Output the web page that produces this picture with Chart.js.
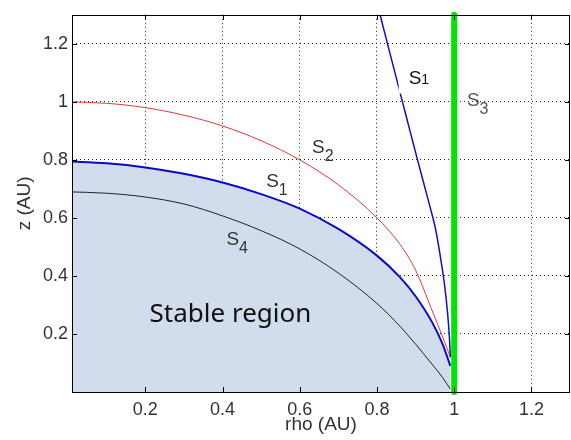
<!DOCTYPE html>
<html>
<head>
<meta charset="utf-8">
<script src="https://cdn.jsdelivr.net/npm/chart.js@4.4.0/dist/chart.umd.min.js"></script>
<style>
  html, body { margin: 0; padding: 0; background: #fff; }
</style>
</head>
<body>
<canvas id="chart" width="571" height="440"></canvas>
<script>
// tick values
const xTicks = [0.2, 0.4, 0.6, 0.8, 1, 1.2];
const yTicks = [0.2, 0.4, 0.6, 0.8, 1, 1.2];

// curves, [rho, z]
const s4 = [[0, 0.69], [0.1, 0.685], [0.2, 0.672], [0.3, 0.648], [0.4, 0.607], [0.5, 0.556],
  [0.6, 0.493], [0.7, 0.41], [0.8, 0.305], [0.86, 0.226], [0.9, 0.165], [0.94, 0.1],
  [0.97, 0.05], [0.99, 0.01]];
const s1Low = [[0, 0.795], [0.1, 0.788], [0.2, 0.774], [0.3, 0.752], [0.4, 0.722], [0.5, 0.682],
  [0.6, 0.632], [0.7, 0.562], [0.8, 0.47], [0.86, 0.395], [0.9, 0.33], [0.943, 0.24],
  [0.97, 0.165], [0.99, 0.09]];
const s2 = [[0, 1.0], [0.1, 0.995], [0.2, 0.98], [0.3, 0.954], [0.4, 0.917], [0.5, 0.866],
  [0.6, 0.8], [0.7, 0.714], [0.8, 0.6], [0.86, 0.508], [0.9, 0.42], [0.94, 0.29],
  [0.97, 0.19], [0.99, 0.12]];
const s1Steep = [[0.808, 1.3], [0.866, 1.0], [0.905, 0.8], [0.935, 0.65], [0.952, 0.56],
  [0.965, 0.46], [0.975, 0.37], [0.983, 0.27], [0.988, 0.18], [0.99, 0.12]];
const s3 = [[1, 0], [1, 1.3]];

// text on the plot: [text, subscript, rho, z]
const notes = [
  ["S", "1", 0.882, 1.063],
  ["S", "3", 1.033, 0.986],
  ["S", "2", 0.632, 0.825],
  ["S", "1", 0.513, 0.707],
  ["S", "4", 0.41, 0.505]
];
const regionText = ["Stable region", 0.211, 0.24];

const pts = arr => arr.map(p => ({x: p[0], y: p[1]}));

const frame = {
  id: "frame",
  afterDraw(chart) {
    const {ctx, chartArea: a, scales: {x, y}} = chart;
    ctx.save();
    // inner tick marks on all four sides
    ctx.strokeStyle = "#000";
    ctx.lineWidth = 1;
    ctx.beginPath();
    for (const v of xTicks) {
      const px = Math.round(x.getPixelForValue(v)) + 0.5;
      ctx.moveTo(px, a.bottom); ctx.lineTo(px, a.bottom - 5);
      ctx.moveTo(px, a.top); ctx.lineTo(px, a.top + 5);
    }
    for (const v of yTicks) {
      const py = Math.round(y.getPixelForValue(v)) + 0.5;
      ctx.moveTo(a.left, py); ctx.lineTo(a.left + 5, py);
      ctx.moveTo(a.right, py); ctx.lineTo(a.right - 5, py);
    }
    ctx.stroke();
    ctx.strokeRect(Math.round(a.left) + 0.5, Math.round(a.top) + 0.5,
      Math.round(a.right - a.left) - 1, Math.round(a.bottom - a.top));

    // curve names
    notes.forEach((n, i) => {
      const px = x.getPixelForValue(n[2]);
      const py = y.getPixelForValue(n[3]);
      if (i == 0) {
        ctx.fillStyle = "#fff";
        ctx.fillRect(px - 10, py - 19, 32, 29);
      }
      ctx.fillStyle = i == 1 ? "#555" : (i == 0 ? "#111" : "#333");
      ctx.textBaseline = "alphabetic";
      ctx.textAlign = "left";
      ctx.font = "19px 'Liberation Sans', Arial, sans-serif";
      ctx.fillText(n[0], px, py);
      const w = ctx.measureText(n[0]).width;
      ctx.font = (i == 0 ? "14px" : "16px") + " 'Liberation Sans', Arial, sans-serif";
      ctx.fillText(n[1], px + w, py + (i == 0 ? 0 : 8));
    });

    ctx.fillStyle = "#111";
    ctx.font = "26px 'Noto Sans', 'Open Sans', sans-serif";
    ctx.fillText(regionText[0], x.getPixelForValue(regionText[1]), y.getPixelForValue(regionText[2]));
    ctx.restore();
  }
};

const line = (data, color, width, extra) => Object.assign({
  data: pts(data),
  showLine: true,
  borderColor: color,
  borderWidth: width,
  pointRadius: 0,
  fill: false,
  cubicInterpolationMode: "monotone"
}, extra || {});

const tickFont = {family: "'Liberation Sans', Arial, sans-serif", size: 18};
const titleFont = {family: "'Liberation Sans', Arial, sans-serif", size: 19};

new Chart(document.getElementById("chart"), {
  type: "scatter",
  data: {
    datasets: [
      line(s3, "#00e400", 6, {cubicInterpolationMode: "default", tension: 0, borderCapStyle: "round", clip: 6}),
      line(s1Steep, "#1010c0", 1.5),
      line(s2, "#e03838", 1),
      line(s4, "#222", 1),
      line(s1Low, "#0a0ac8", 2, {fill: "origin", backgroundColor: "rgb(209,220,237)"})
    ]
  },
  options: {
    responsive: false,
    animation: false,
    layout: {padding: {top: 8, right: 1, left: 0, bottom: 0}},
    plugins: {
      legend: {display: false},
      tooltip: {enabled: false},
      filler: {drawTime: "beforeDatasetsDraw"}
    },
    scales: {
      x: {
        type: "linear",
        min: 0.01,
        max: 1.3,
        z: 1,
        afterBuildTicks: s => { s.ticks = xTicks.map(v => ({value: v})); },
        afterFit: s => { s.height = 48; },
        grid: {color: "#222", drawTicks: false, lineWidth: 1},
        border: {display: false, dash: [1, 3]},
        ticks: {color: "#333", font: tickFont, padding: 7, maxRotation: 0, callback: v => String(v)},
        title: {display: true, text: "rho (AU)", color: "#333", font: titleFont, padding: {top: 0, bottom: 4}}
      },
      y: {
        type: "linear",
        min: 0,
        max: 1.3,
        z: 1,
        afterBuildTicks: s => { s.ticks = yTicks.map(v => ({value: v})); },
        afterFit: s => { s.width = 72; },
        grid: {color: "#222", drawTicks: false, lineWidth: 1},
        border: {display: false, dash: [1, 3]},
        ticks: {color: "#333", font: tickFont, padding: 4, callback: v => String(v)},
        title: {display: true, text: "z (AU)", color: "#333", font: titleFont, padding: {top: 13, bottom: 0}}
      }
    }
  },
  plugins: [frame]
});
</script>
</body>
</html>
